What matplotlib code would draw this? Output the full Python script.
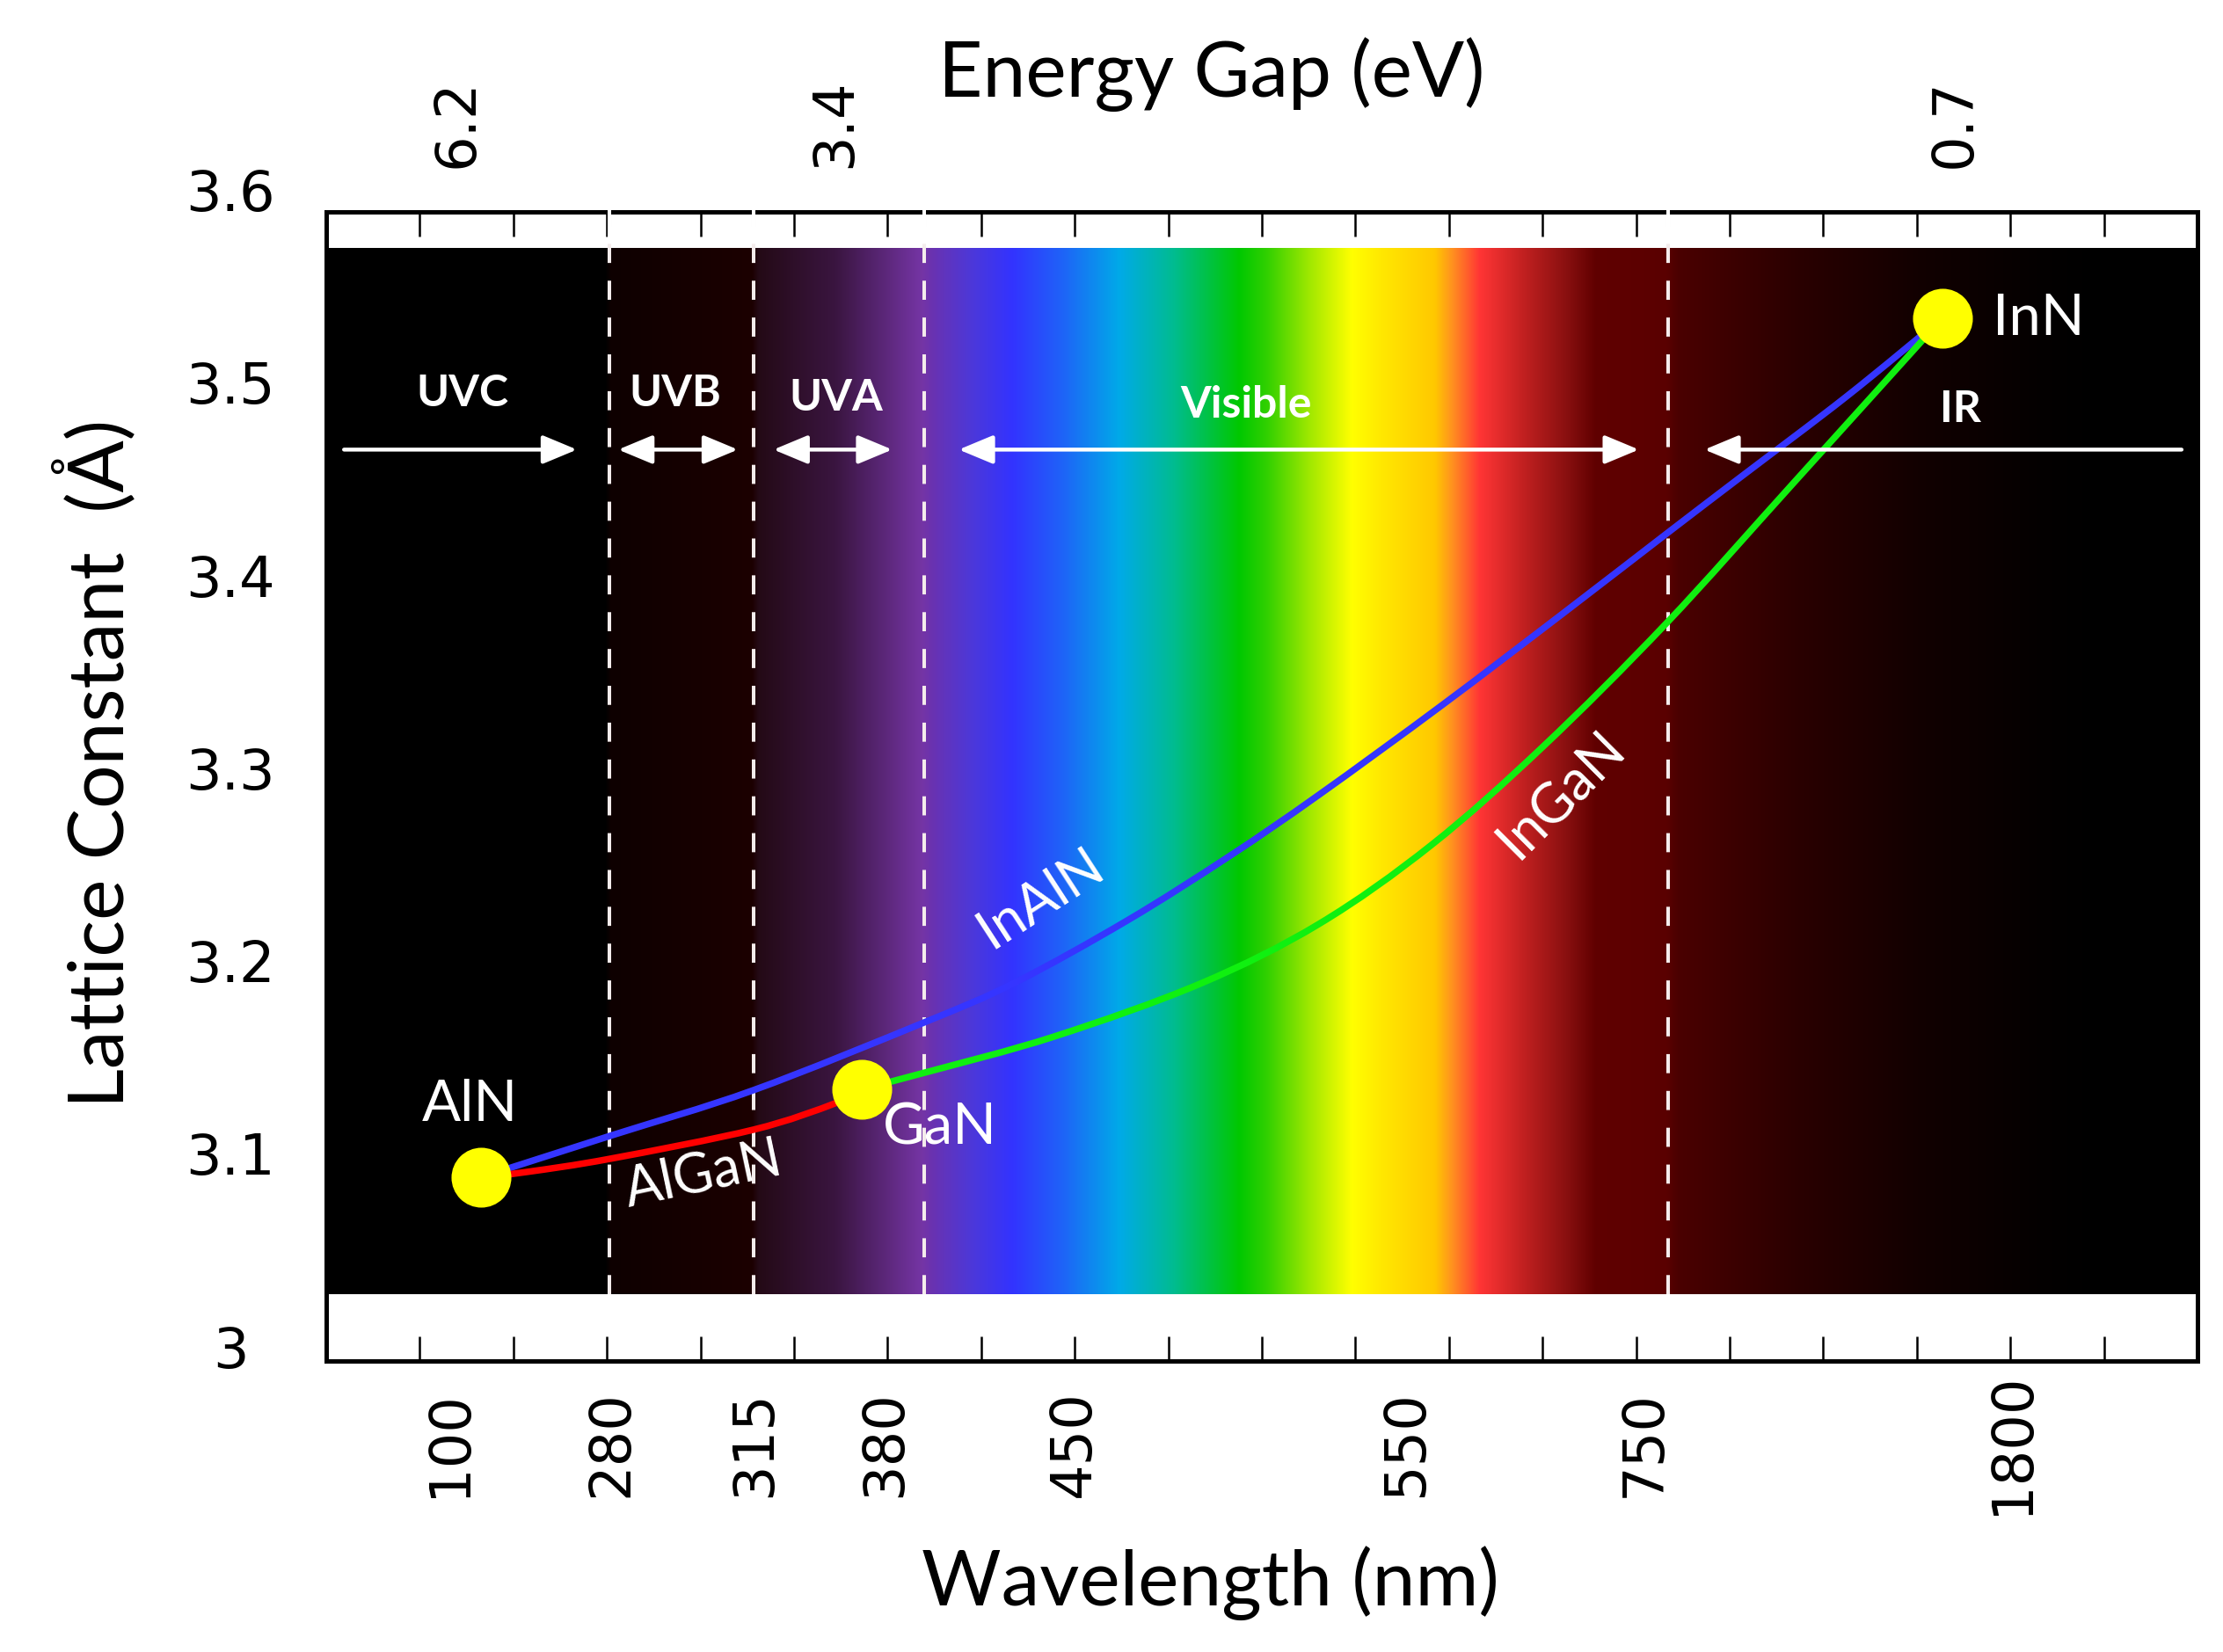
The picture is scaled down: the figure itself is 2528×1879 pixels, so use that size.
import numpy as np
import matplotlib
matplotlib.use("Agg")
import matplotlib.pyplot as plt
from matplotlib.path import Path
from matplotlib.patches import PathPatch
from matplotlib.transforms import blended_transform_factory
from matplotlib.colors import to_rgb

# ---------------- data ----------------
# x axis: 20 equal, non-linear category slots; y axis: lattice constant (Å)
wavelength_labels = ["100", "280", "315", "380", "450", "550", "750", "1800"]
wavelength_pos = [1.32, 3.05, 4.58, 5.97, 7.99, 11.54, 14.09, 18.02]
energy_labels = ["6.2", "3.4", "0.7"]
energy_pos = [1.40, 5.43, 17.40]
lattice_ticks = [3.0, 3.1, 3.2, 3.3, 3.4, 3.5, 3.6]
lattice_ticklabels = ["3", "3.1", "3.2", "3.3", "3.4", "3.5", "3.6"]

region_bounds = [3.03, 4.57, 6.39, 14.34]          # 280, 315, 400, 750 nm
region_names = ["UVC", "UVB", "UVA", "Visible", "IR"]
region_label_x = [1.46, 3.73, 5.45, 9.83, 17.47]
region_label_y = [3.497, 3.497, 3.495, 3.491, 3.489]
arrow_start = [0.19, 3.12, 4.78, 6.76, 19.83]
arrow_end = [2.68, 4.40, 6.05, 14.03, 14.73]
arrow_double = [False, True, True, True, False]
arrow_y = 3.468

compounds = ["AlN", "GaN", "InN"]
compound_x = [1.654, 5.724, 17.274]
compound_y = [3.0906, 3.1363, 3.5362]
compound_label_x = [1.54, 6.56, 18.30]
compound_label_y = [3.128, 3.116, 3.536]

inaln_x = [1.654, 3.036, 4.568, 6.391, 7.359, 8.562, 9.652, 10.611, 11.927,
           13.252, 14.352, 15.113, 16.250, 17.274]
inaln_y = [3.0906, 3.1121, 3.1358, 3.1709, 3.1915, 3.2238, 3.2571, 3.2890,
           3.3355, 3.3843, 3.4254, 3.4536, 3.4956, 3.5362]
ingan_x = [5.724, 6.400, 7.782, 9.342, 10.611, 11.814, 13.008, 14.323, 15.686, 17.274]
ingan_y = [3.1363, 3.1449, 3.1636, 3.1910, 3.2220, 3.2630, 3.3141, 3.3779, 3.4509, 3.5362]
algan_x = [1.654, 2.152, 3.036, 4.568, 5.442, 5.724]
algan_y = [3.0906, 3.0934, 3.1002, 3.1153, 3.1290, 3.1363]

alloy_names = ["InAlN", "InGaN", "AlGaN"]
alloy_label_x = [7.64, 13.20, 4.03]
alloy_label_y = [3.235, 3.289, 3.092]
alloy_label_rot = [33, 45, 12]

# ---------------- styles ----------------
LABEL_FONT = ["Lato", "DejaVu Sans"]
TICK_FONT = ["DejaVu Sans"]

# colour stops of the spectrum background (x in slot units, colour)
spec_stops = [
    (0.00, "#000000"), (2.98, "#000000"), (3.04, "#0e0000"), (4.55, "#1c0000"),
    (4.62, "#240a16"), (5.44, "#3a1540"), (6.37, "#7535a5"), (6.47, "#6a32b0"),
    (6.89, "#4d38d8"), (7.33, "#3333ff"), (7.84, "#2060f8"), (8.48, "#00aae8"),
    (9.06, "#00bc90"), (9.76, "#00c800"), (10.05, "#30d000"), (10.51, "#a0e800"),
    (10.96, "#ffff00"), (11.28, "#ffe800"), (11.85, "#ffc800"), (12.04, "#ff9020"),
    (12.33, "#ff3535"), (12.81, "#c02020"), (13.25, "#8a1010"), (13.57, "#600000"),
    (14.33, "#5a0000"), (14.46, "#4a0000"), (15.74, "#2a0000"), (17.01, "#120000"),
    (18.29, "#040000"), (18.93, "#000000"), (20.00, "#000000"),
]

fig = plt.figure(figsize=(25.28, 18.79), dpi=100)
ax = fig.add_axes([0.14676, 0.17616, 0.84177, 0.69558])
ax.set_xlim(0, 20)
ax.set_ylim(2.9953, 3.5913)

# spectrum image
sx = np.array([s[0] for s in spec_stops])
sc = np.array([to_rgb(s[1]) for s in spec_stops])
xs = np.linspace(0, 20, 2400)
img = np.stack([np.interp(xs, sx, sc[:, k]) for k in range(3)], axis=-1)
img = np.repeat(img[None, :, :], 2, axis=0)
ax.imshow(img, extent=(0, 20, 3.03, 3.5722), aspect="auto",
          interpolation="bilinear", zorder=0)

# dashed region borders
for xb in region_bounds:
    ax.plot([xb, xb], [3.03, 3.5913], color="#f4ecec", lw=2.9,
            dashes=(5.4, 5.0), zorder=1, solid_capstyle="butt")
    ax.plot([xb, xb], [3.578, 3.5913], color="white", lw=2.9, zorder=6,
            clip_on=False)

# smooth curves through read points
def smooth_path(xv, yv):
    P = np.column_stack([xv, yv])
    verts = [P[0]]
    codes = [Path.MOVETO]
    n = len(P)
    for i in range(n - 1):
        p0 = P[i - 1] if i > 0 else P[i]
        p1, p2 = P[i], P[i + 1]
        p3 = P[i + 2] if i + 2 < n else P[i + 1]
        verts += [p1 + (p2 - p0) / 6.0, p2 - (p3 - p1) / 6.0, p2]
        codes += [Path.CURVE4] * 3
    return Path(verts, codes)

for xv, yv, col in [(inaln_x, inaln_y, "#3535ff"),
                    (ingan_x, ingan_y, "#10f010"),
                    (algan_x, algan_y, "#ff0000")]:
    ax.add_patch(PathPatch(smooth_path(xv, yv), facecolor="none",
                           edgecolor=col, lw=5.4, zorder=3,
                           capstyle="round"))

ax.plot(compound_x, compound_y, "o", color="#ffff00", ms=49, mew=0, zorder=4)

for name, lx, ly in zip(compounds, compound_label_x, compound_label_y):
    ax.text(lx, ly, name, color="white", fontsize=47, family=LABEL_FONT,
            ha="center", va="center", zorder=5)
for name, lx, ly, rot in zip(alloy_names, alloy_label_x, alloy_label_y, alloy_label_rot):
    ax.text(lx, ly, name, color="white", fontsize=45, family=LABEL_FONT,
            ha="center", va="center", rotation=rot, rotation_mode="anchor",
            zorder=5)

# region labels and arrows
for name, lx, ly in zip(region_names, region_label_x, region_label_y):
    ax.text(lx, ly, name, color="white", fontsize=36, fontweight="bold",
            family=LABEL_FONT, ha="center", va="center", zorder=5)
for x0, x1, dbl in zip(arrow_start, arrow_end, arrow_double):
    style = "<|-|>" if dbl else "-|>"
    ax.annotate("", xy=(x1, arrow_y), xytext=(x0, arrow_y),
                arrowprops=dict(arrowstyle=style + ",head_length=1.2,head_width=0.5",
                                color="white", lw=3.2, mutation_scale=20,
                                shrinkA=0, shrinkB=0), zorder=5)

# axes frame and ticks
for sp in ax.spines.values():
    sp.set_linewidth(3.6)
    sp.set_color("black")
    sp.set_zorder(5)
ax.set_xticks(np.arange(1, 20))
ax.set_yticks([])
ax.tick_params(axis="x", direction="in", top=True, bottom=True,
               labelbottom=False, labeltop=False, length=20, width=1.8)

# tick-like text labels
tr_x = blended_transform_factory(ax.transData, ax.transAxes)
for lab, p in zip(wavelength_labels, wavelength_pos):
    ax.text(p, -0.0719, lab, transform=tr_x, rotation=90, fontsize=46,
            family=TICK_FONT, ha="center", va="center", clip_on=False)
for lab, p in zip(energy_labels, energy_pos):
    ax.text(p, 1.0773, lab, transform=tr_x, rotation=90, fontsize=46,
            family=TICK_FONT, ha="center", va="center", clip_on=False)
tr_y = blended_transform_factory(ax.transAxes, ax.transData)
for lab, v in zip(lattice_ticklabels, lattice_ticks):
    ax.text(-0.0512, v, lab, transform=tr_y, fontsize=46, family=TICK_FONT,
            ha="center", va="center", clip_on=False)

# axis titles
ax.text(0.4732, 1.1194, "Energy Gap (eV)", transform=ax.transAxes, fontsize=63,
        family=LABEL_FONT, ha="center", va="center")
ax.text(0.4723, -0.1936, "Wavelength (nm)", transform=ax.transAxes, fontsize=63,
        family=LABEL_FONT, ha="center", va="center")
ax.text(-0.1236, 0.5203, "Lattice Constant  (Å)", transform=ax.transAxes,
        fontsize=63, family=LABEL_FONT, ha="center", va="center", rotation=90)

fig.savefig("out.png", dpi=100)
